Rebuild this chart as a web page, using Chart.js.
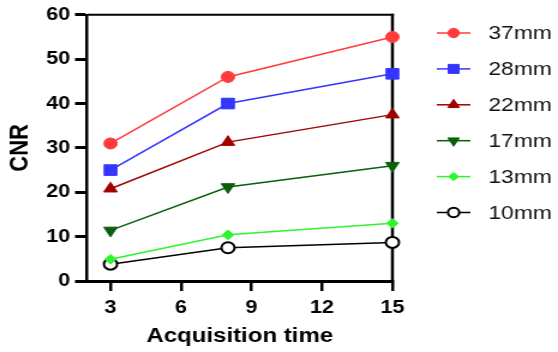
<!DOCTYPE html>
<html>
<head>
<meta charset="utf-8">
<script src="https://cdn.jsdelivr.net/npm/chart.js@4/dist/chart.umd.min.js"></script>
<style>
  html, body { margin: 0; padding: 0; background: #fff; overflow: hidden; }
  /* the reference figure is stretched sideways, so the chart is drawn narrower and widened */
  #wrap { width: 465px; height: 352px; transform: scaleX(1.2); transform-origin: 0 0; }
</style>
</head>
<body>
<div id="wrap"><canvas id="cnr_chart" width="465" height="352"></canvas></div>
<script>
const times = [3, 8, 15];
const xTicks = [3, 6, 9, 12, 15];
const yTicks = [0, 10, 20, 30, 40, 50, 60];
const sizes = ["37mm", "28mm", "22mm", "17mm", "13mm", "10mm"];
const cnr37 = [31, 46, 55];
const cnr28 = [25, 40, 46.7];
const cnr22 = [20.8, 31.3, 37.5];
const cnr17 = [11.4, 21.2, 26];
const cnr13 = [4.9, 10.4, 13];
const cnr10 = [3.8, 7.5, 8.7];

const allValues = [cnr37, cnr28, cnr22, cnr17, cnr13, cnr10];
const lineColors = ["#ff3b3b", "#3535ff", "#a00000", "#0b5e0b", "#2cf52c", "#000000"];
const fillColors = ["#ff3b3b", "#3535ff", "#a00000", "#0b5e0b", "#2cf52c", "#ffffff"];
const styles = ["circle", "rect", "triangle", "triangle", "rectRot", "circle"];
const rotations = [0, 0, 0, 180, 0, 0];
const radii = [5.5, 7.5, 6.5, 6.5, 4.8, 5.5];

const font = "'Liberation Sans', Arial, sans-serif";

const datasets = allValues.map((vals, i) => ({
  label: sizes[i],
  data: times.map((t, j) => ({x: t, y: vals[j]})),
  borderColor: lineColors[i],
  backgroundColor: fillColors[i],
  pointBackgroundColor: fillColors[i],
  pointBorderColor: lineColors[i],
  pointBorderWidth: i === 5 ? 2 : 1,
  pointStyle: styles[i],
  pointRotation: rotations[i],
  pointRadius: radii[i],
  borderWidth: 1.5,
  clip: false
}));

// same shapes as chart.js point styles, for the side legend
function drawMarker(ctx, style, x, y, r, rot) {
  ctx.save();
  ctx.translate(x, y);
  ctx.rotate(rot * Math.PI / 180);
  ctx.beginPath();
  if (style === "circle") {
    ctx.arc(0, 0, r, 0, Math.PI * 2);
  } else if (style === "rect") {
    const s = r * Math.SQRT1_2;
    ctx.rect(-s, -s, 2 * s, 2 * s);
  } else if (style === "triangle") {
    for (let k = 0; k < 3; k++) {
      const a = -Math.PI / 2 + k * 2 * Math.PI / 3;
      ctx.lineTo(r * Math.cos(a), r * Math.sin(a));
    }
    ctx.closePath();
  } else if (style === "rectRot") {
    ctx.moveTo(0, -r);
    ctx.lineTo(r, 0);
    ctx.lineTo(0, r);
    ctx.lineTo(-r, 0);
    ctx.closePath();
  }
  ctx.fill();
  ctx.stroke();
  ctx.restore();
}

const framePlugin = {
  id: "frame",
  beforeDatasetsDraw(chart) {
    const {ctx, chartArea} = chart;
    ctx.save();
    ctx.strokeStyle = "#000";
    ctx.lineWidth = 2;
    ctx.beginPath();
    ctx.moveTo(chartArea.left, chartArea.top);
    ctx.lineTo(chartArea.right + 1.2, chartArea.top);
    ctx.stroke();
    ctx.lineWidth = 2.5;
    ctx.beginPath();
    ctx.moveTo(chartArea.right, chartArea.top - 1);
    ctx.lineTo(chartArea.right, chartArea.bottom);
    ctx.stroke();
    ctx.restore();
  }
};

const legendPlugin = {
  id: "sideLegend",
  afterDraw(chart) {
    const ctx = chart.ctx;
    const x0 = 364, x1 = 392, tx = 407;
    chart.data.datasets.forEach((ds, i) => {
      const y = 33 + i * 35.9;
      ctx.save();
      ctx.strokeStyle = ds.borderColor;
      ctx.lineWidth = 1.5;
      ctx.beginPath();
      ctx.moveTo(x0, y);
      ctx.lineTo(x1, y);
      ctx.stroke();
      ctx.fillStyle = ds.pointBackgroundColor;
      ctx.lineWidth = ds.pointBorderWidth;
      drawMarker(ctx, ds.pointStyle, (x0 + x1) / 2, y, ds.pointRadius * 0.85, ds.pointRotation);
      ctx.fillStyle = "#111";
      ctx.font = "19px " + font;
      ctx.textBaseline = "middle";
      ctx.textAlign = "left";
      ctx.fillText(ds.label, tx, y + 1);
      ctx.restore();
    });
  }
};

new Chart("cnr_chart", {
  type: "line",
  data: { datasets: datasets },
  plugins: [framePlugin, legendPlugin],
  options: {
    responsive: false,
    animation: false,
    devicePixelRatio: 1,
    layout: { padding: { top: 8, right: 138, left: 0, bottom: 0 } },
    plugins: {
      legend: { display: false },
      tooltip: { enabled: false }
    },
    scales: {
      x: {
        type: "linear",
        min: 2,
        max: 15,
        afterBuildTicks: s => { s.ticks = xTicks.map(v => ({value: v})); },
        afterFit: s => { s.height = 71; },
        ticks: { color: "#000", font: { family: font, size: 18, weight: "bold" }, padding: 6 },
        grid: { display: true, drawOnChartArea: false, drawTicks: true, tickLength: 10, lineWidth: 2.5, color: "#000" },
        border: { display: true, width: 3, color: "#000" },
        title: { display: true, text: "Acquisition time", color: "#000", font: { family: font, size: 20, weight: "bold" }, padding: { top: 0, bottom: 4 } }
      },
      y: {
        min: 0,
        max: 60,
        afterBuildTicks: s => { s.ticks = yTicks.map(v => ({value: v})); },
        afterFit: s => { s.width = 72.5; },
        ticks: { color: "#000", font: { family: font, size: 18, weight: "bold" }, padding: 4 },
        grid: { display: true, drawOnChartArea: false, drawTicks: true, tickLength: 10, lineWidth: 3, color: "#000" },
        border: { display: true, width: 2.5, color: "#000" },
        title: { display: true, text: "CNR", color: "#000", font: { family: font, size: 22, weight: "bold" }, padding: { top: 4, bottom: 4 } }
      }
    }
  }
});
</script>
</body>
</html>
